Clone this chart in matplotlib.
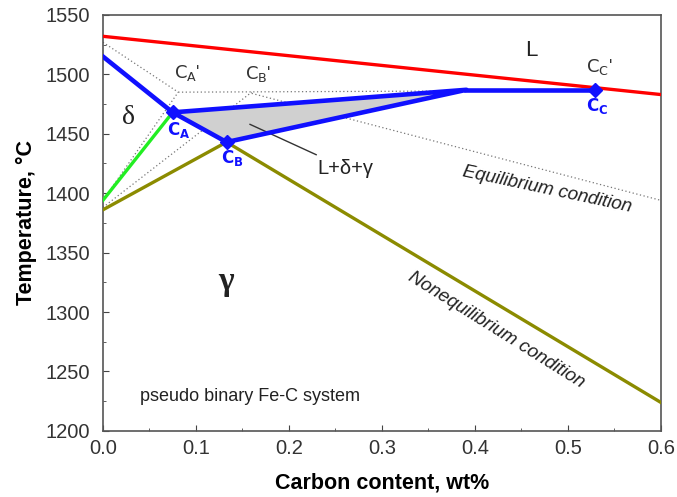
import matplotlib.pyplot as plt
from matplotlib.ticker import MultipleLocator

plt.rcParams['font.family'] = ['Liberation Sans', 'DejaVu Sans']

# nonequilibrium lines (wt% C, deg C)
liq_c = [0.0, 0.6]
liq_t = [1532, 1483]

delta_sol_c = [0.0, 0.075]
delta_sol_t = [1515, 1468]

green_c = [0.0, 0.075]
green_t = [1394, 1468]

gamma_c = [0.0, 0.133, 0.6]
gamma_t = [1386, 1443, 1224]

# three-phase region L+delta+gamma
tri_c = [0.075, 0.391, 0.133]
tri_t = [1468, 1487, 1443]
top_c = [0.391, 0.529]
top_t = [1487, 1487]

# marked points
pt_names = ['A', 'B', 'C']
pt_c = [0.075, 0.133, 0.529]
pt_t = [1468, 1443, 1487]

# equilibrium (dotted) lines
eq_lines = [
    ([0.0, 0.081], [1527, 1485]),
    ([0.081, 0.391], [1485, 1486]),
    ([0.0, 0.081], [1394, 1485]),
    ([0.0, 0.16], [1388, 1485]),
    ([0.16, 0.6], [1484, 1394]),
]

fig = plt.figure(figsize=(6.77, 4.97), dpi=100)
ax = fig.add_axes([0.152, 0.133, 0.824, 0.837])

for c, t in eq_lines:
    ax.plot(c, t, color='#777777', lw=0.9, ls=(0, (1, 2)))

ax.fill(tri_c, tri_t, color='#d0d0d0', zorder=2)
ax.plot(liq_c, liq_t, color='#ff0000', lw=2.4, zorder=3)
ax.plot(green_c, green_t, color='#22ee22', lw=2.4, zorder=3)
ax.plot(gamma_c, gamma_t, color='#8b8b00', lw=2.4, zorder=3)
ax.plot(delta_sol_c, delta_sol_t, color='#1010ff', lw=3.3, zorder=4)
ax.plot(tri_c + [tri_c[0]], tri_t + [tri_t[0]], color='#1010ff', lw=3.3, zorder=4)
ax.plot(top_c, top_t, color='#1010ff', lw=3.3, zorder=4)
ax.plot(pt_c, pt_t, ls='none', marker='D', ms=7.5, color='#1010ff', zorder=5)

# point labels
blue_lab = [(0.081, 1453), (0.139, 1430), (0.532, 1473)]
for n, (c, t) in zip(pt_names, blue_lab):
    ax.text(c, t, r'$\mathbf{C}_\mathbf{%s}$' % n, color='#1010ff', fontsize=12,
            ha='center', va='center', zorder=6)
prime_lab = [(0.091, 1501), (0.167, 1500), (0.534, 1506)]
for n, (c, t) in zip(pt_names, prime_lab):
    ax.text(c, t, r'$\mathrm{C}_\mathrm{%s}$' % n + "'", color='#333333', fontsize=13,
            ha='center', va='center')

ax.text(0.461, 1520, 'L', fontsize=16, ha='center', va='center', color='#222222')
ax.text(0.027, 1464, '\u03b4', fontsize=20, family='Liberation Serif',
        ha='center', va='center', color='#222222')
ax.text(0.132, 1326, '\u03b3', fontsize=24, family='Liberation Serif',
        fontweight='bold', ha='center', va='center', color='#222222')
ax.annotate('L+\u03b4+\u03b3', xy=(0.158, 1458), xytext=(0.231, 1421),
            fontsize=14.5, ha='left', va='center', color='#222222',
            arrowprops=dict(arrowstyle='-', color='#333333', lw=1.0,
                            shrinkA=2, shrinkB=0))
ax.text(0.478, 1403, 'Equilibrium condition', fontsize=13.5, style='italic',
        rotation=-12, ha='center', va='center', color='#222222')
ax.text(0.423, 1285, 'Nonequilibrium condition', fontsize=13.5, style='italic',
        rotation=-32, ha='center', va='center', color='#222222')
ax.text(0.04, 1229, 'pseudo binary Fe-C system', fontsize=13, ha='left',
        va='center', color='#222222')

ax.set_xlim(0, 0.6)
ax.set_ylim(1200, 1550)
ax.xaxis.set_major_locator(MultipleLocator(0.1))
ax.xaxis.set_minor_locator(MultipleLocator(0.05))
ax.yaxis.set_major_locator(MultipleLocator(50))
ax.yaxis.set_minor_locator(MultipleLocator(25))
ax.xaxis.set_major_formatter(plt.FuncFormatter(lambda v, p: '%.1f' % v))
ax.tick_params(which='both', direction='in', labelsize=14.5, colors='#444444',
               labelcolor='#333333')
ax.tick_params(axis='x', which='major', length=4, pad=6)
ax.tick_params(axis='y', which='major', length=4, pad=9)
ax.tick_params(which='minor', length=2)
for s in ax.spines.values():
    s.set_color('#555555')
    s.set_linewidth(1.2)
ax.set_xlabel('Carbon content, wt%', fontsize=15.5, fontweight='bold', labelpad=10)
ax.set_ylabel('Temperature, \u00b0C', fontsize=15.5, fontweight='bold', labelpad=6)

fig.savefig('out.png', dpi=100)
